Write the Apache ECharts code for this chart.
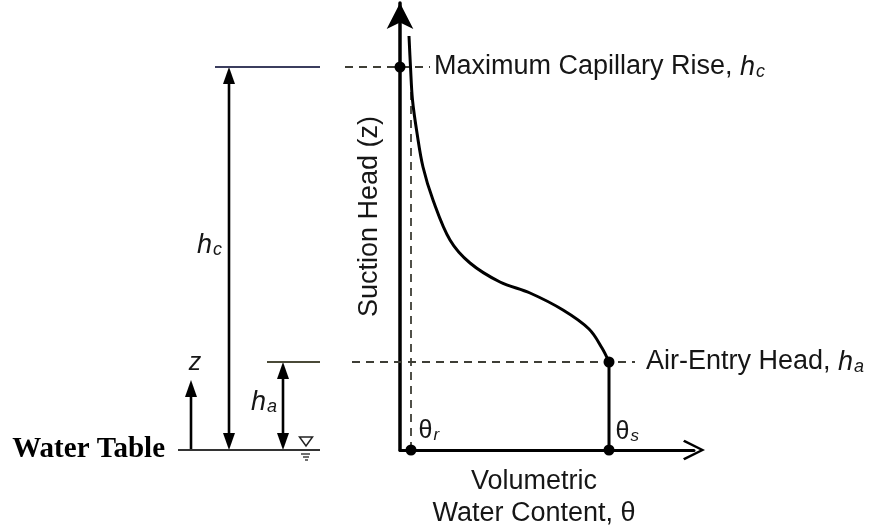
<!DOCTYPE html>
<html><head><meta charset="utf-8">
<script src="https://cdn.jsdelivr.net/npm/echarts@6/dist/echarts.min.js"></script>
<style>html,body{margin:0;padding:0;background:#fff}#c{width:869px;height:530px}</style>
</head><body><div id="c"></div>
<script>
// ---- Soil-water retention curve (volumetric water content θ, suction head z) ----
const curveTheta = [0.018, 0.021, 0.025, 0.034, 0.046, 0.066, 0.100, 0.140, 0.200, 0.260, 0.326, 0.378, 0.404, 0.418];
const curveZ     = [414,   383,   350,   317,   283,   250,   210,   187,   168,   157,   140,   121,   102,   88];
const thetaR = 0.022;          // residual water content
const thetaS = 0.418;          // saturated water content
const hc = 383;                // maximum capillary rise
const ha = 88;                 // air-entry head
const thetaRDashTop = 370;
const hcDashTheta = [-0.11, 0.06];
const haDashTheta = [-0.096, 0.47];
// ---- Left schematic (water table reference), schematic x units ----
const wtLineX = [8, 150];
const hcLineX = [45, 150];
const haLineX = [97, 150];
const zArrowX = 21, hcArrowX = 59, haArrowX = 113, wtSymbolX = 136;
const zArrowTop = 70;
const hcLabelZ = 205, haLabelZ = 48;
// ---- Text ----
const yName = 'Suction Head (z)';
const xName = 'Volumetric\nWater Content, θ';

const SANS = '"Liberation Sans", Arial, sans-serif';
const INK = '#161616';
const DASH = '#3e3e36';

const chart = echarts.init(document.getElementById('c'), null, {renderer: 'canvas'});

function arrowItem(params, api) {
  const x = api.value(0), z0 = api.value(1), z1 = api.value(2), both = api.value(3);
  const p0 = api.coord([x, z0]);
  const p1 = api.coord([x, z1]);
  const hl = 17, hw = 6;
  const children = [{
    type: 'line',
    shape: {x1: p0[0], y1: both ? p0[1] - hl + 2 : p0[1], x2: p1[0], y2: p1[1] + hl - 2},
    style: {stroke: '#000', lineWidth: 2.6}
  }, {
    type: 'polygon',
    shape: {points: [[p1[0], p1[1]], [p1[0] - hw, p1[1] + hl], [p1[0] + hw, p1[1] + hl]]},
    style: {fill: '#000'}
  }];
  if (both) {
    children.push({
      type: 'polygon',
      shape: {points: [[p0[0], p0[1]], [p0[0] - hw, p0[1] - hl], [p0[0] + hw, p0[1] - hl]]},
      style: {fill: '#000'}
    });
  }
  return {type: 'group', children};
}

function wtSymbolItem(params, api) {
  const p = api.coord([api.value(0), api.value(1)]);
  const s = {stroke: '#222', lineWidth: 1.3};
  return {type: 'group', children: [
    {type: 'polygon', shape: {points: [[p[0] - 6.5, p[1] - 13], [p[0] + 6.5, p[1] - 13], [p[0], p[1] - 4]]}, style: {fill: '#fff', stroke: '#222', lineWidth: 1.5}},
    {type: 'line', shape: {x1: p[0] - 5, y1: p[1] + 4, x2: p[0] + 4, y2: p[1] + 4}, style: s},
    {type: 'line', shape: {x1: p[0] - 3, y1: p[1] + 7, x2: p[0] + 3, y2: p[1] + 7}, style: s},
    {type: 'line', shape: {x1: p[0] - 1, y1: p[1] + 10, x2: p[0] + 2, y2: p[1] + 10}, style: s}
  ]};
}

const dashStyle = {color: DASH, width: 1.8, type: [8, 6], opacity: 1};
const subRich = (size) => ({fontFamily: SANS, fontSize: size, color: INK, fontStyle: 'italic', verticalAlign: 'bottom', padding: [10, 0, 0, 1]});

const option = {
  animation: false,
  backgroundColor: '#fff',
  grid: [
    {left: 400, top: 3, width: 294, bottom: 80, containLabel: false, outerBoundsMode: 'none'},
    {left: 170, top: 3, width: 160, bottom: 80, containLabel: false, outerBoundsMode: 'none'}
  ],
  xAxis: [
    {
      gridIndex: 0, type: 'value', min: 0, max: 0.588,
      axisLine: {show: true, onZero: false, lineStyle: {color: '#000', width: 3},
        symbol: ['none', 'path://M10,0 L20,20 L18,21.5 L10,5 L2,21.5 L0,20 Z'], symbolSize: [22, 22]},
      axisTick: {show: false}, axisLabel: {show: false}, splitLine: {show: false},
      name: xName, nameLocation: 'middle', nameGap: 16,
      nameTextStyle: {fontFamily: SANS, fontSize: 27, color: INK, lineHeight: 32, padding: [0, 26, 0, 0]}
    },
    {gridIndex: 1, type: 'value', min: 0, max: 160, show: false}
  ],
  yAxis: [
    {
      gridIndex: 0, type: 'value', min: 0, max: 447,
      axisLine: {show: true, onZero: false, lineStyle: {color: '#000', width: 3.5},
        symbol: ['none', 'arrow'], symbolSize: [20, 26]},
      axisTick: {show: false}, axisLabel: {show: false}, splitLine: {show: false},
      name: yName, nameLocation: 'middle', nameGap: 17, nameRotate: 90,
      nameTextStyle: {fontFamily: SANS, fontSize: 27, color: INK, padding: [0, 0, 0, 20]}
    },
    {gridIndex: 1, type: 'value', min: 0, max: 447, show: false}
  ],
  series: [
    {
      type: 'line', xAxisIndex: 0, yAxisIndex: 0, smooth: 0.35, symbol: 'none',
      lineStyle: {color: '#000', width: 3},
      data: curveTheta.map((t, i) => [t, curveZ[i]]), z: 3
    },
    {
      type: 'lines', coordinateSystem: 'cartesian2d', xAxisIndex: 0, yAxisIndex: 0, clip: false,
      lineStyle: dashStyle, symbol: 'none',
      data: [
        {coords: hcDashTheta.map(t => [t, hc])},
        {coords: haDashTheta.map(t => [t, ha])},
        {coords: [[thetaR, 0], [thetaR, thetaRDashTop]]}
      ]
    },
    {
      type: 'line', xAxisIndex: 0, yAxisIndex: 0, symbol: 'none',
      lineStyle: {color: '#000', width: 3},
      data: [[thetaS, 0], [thetaS, ha]]
    },
    {
      type: 'scatter', xAxisIndex: 0, yAxisIndex: 0, clip: false, symbolSize: 0, silent: true,
      itemStyle: {opacity: 1},
      data: [
        {value: [hcDashTheta[1], hc], label: {show: true, position: 'right', distance: 4,
          formatter: '{t|Maximum Capillary Rise, }{i|h}{s|c}',
          rich: {t: {fontFamily: SANS, fontSize: 27, color: INK}, i: {fontFamily: SANS, fontSize: 27, color: INK, fontStyle: 'italic'}, s: subRich(18)}}},
        {value: [haDashTheta[1], ha], label: {show: true, position: 'right', distance: 11,
          formatter: '{t|Air-Entry Head, }{i|h}{s|a}',
          rich: {t: {fontFamily: SANS, fontSize: 27, color: INK}, i: {fontFamily: SANS, fontSize: 27, color: INK, fontStyle: 'italic'}, s: subRich(18)}}}
      ]
    },
    {
      type: 'scatter', xAxisIndex: 0, yAxisIndex: 0, clip: false, symbolSize: 11, z: 5,
      itemStyle: {color: '#000', opacity: 1},
      data: [
        [0, hc],
        [thetaS, ha],
        {value: [thetaR, 0], label: {show: true, position: 'right', distance: 2, offset: [0, -19],
          formatter: '{t|θ}{s|r}',
          rich: {t: {fontFamily: SANS, fontSize: 25, color: INK}, s: Object.assign(subRich(17), {padding: [8, 0, 0, 1]})}}},
        {value: [thetaS, 0], label: {show: true, position: 'right', distance: 1, offset: [0, -18],
          formatter: '{t|θ}{s|s}',
          rich: {t: {fontFamily: SANS, fontSize: 25, color: INK}, s: Object.assign(subRich(17), {padding: [8, 0, 0, 1]})}}}
      ]
    },
    // ---- left schematic ----
    {
      type: 'line', xAxisIndex: 1, yAxisIndex: 1, symbol: 'none',
      lineStyle: {color: '#333', width: 1.8},
      data: wtLineX.map(x => [x, 0])
    },
    {
      type: 'line', xAxisIndex: 1, yAxisIndex: 1, symbol: 'none',
      lineStyle: {color: '#3b3e5e', width: 2},
      data: hcLineX.map(x => [x, hc])
    },
    {
      type: 'line', xAxisIndex: 1, yAxisIndex: 1, symbol: 'none',
      lineStyle: {color: '#4a4a38', width: 2},
      data: haLineX.map(x => [x, ha])
    },
    {
      type: 'custom', xAxisIndex: 1, yAxisIndex: 1, clip: false, renderItem: arrowItem,
      encode: {x: 0, y: [1, 2]},
      data: [[zArrowX, 0, zArrowTop, 0], [hcArrowX, 0, hc, 1], [haArrowX, 0, ha, 1]]
    },
    {
      type: 'custom', xAxisIndex: 1, yAxisIndex: 1, clip: false, renderItem: wtSymbolItem,
      encode: {x: 0, y: 1},
      data: [[wtSymbolX, 0]]
    },
    {
      type: 'scatter', xAxisIndex: 1, yAxisIndex: 1, clip: false, symbolSize: 0, silent: true,
      itemStyle: {opacity: 1},
      data: [
        {value: [hcArrowX, hcLabelZ], label: {show: true, position: 'left', distance: 7,
          formatter: '{i|h}{s|c}',
          rich: {i: {fontFamily: SANS, fontSize: 27, color: INK, fontStyle: 'italic'}, s: subRich(18)}}},
        {value: [haArrowX, haLabelZ], label: {show: true, position: 'left', distance: 6,
          formatter: '{i|h}{s|a}',
          rich: {i: {fontFamily: SANS, fontSize: 27, color: INK, fontStyle: 'italic'}, s: subRich(18)}}},
        {value: [zArrowX, zArrowTop], label: {show: true, position: 'top', distance: 4, offset: [4, 0],
          formatter: 'z', fontFamily: SANS, fontSize: 25, fontStyle: 'italic', color: INK}},
        {value: [wtLineX[0], 0], label: {show: true, position: 'left', distance: 13,
          formatter: 'Water Table', fontFamily: '"Liberation Serif", "Times New Roman", serif', fontWeight: 'bold', fontSize: 29, color: '#000'}}
      ]
    }
  ]
};
chart.setOption(option);
</script>
</body></html>
